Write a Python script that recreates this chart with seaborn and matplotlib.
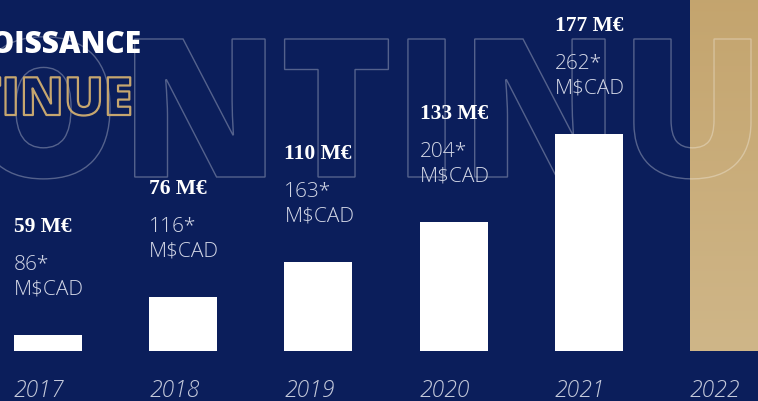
import matplotlib
matplotlib.use("Agg")
import matplotlib.pyplot as plt
import numpy as np
import seaborn as sns
from matplotlib import patheffects
from matplotlib.colors import LinearSegmentedColormap
from matplotlib.font_manager import FontProperties
from matplotlib.patches import PathPatch
from matplotlib.textpath import TextPath
from matplotlib.transforms import Affine2D

# values (bar heights in chart units, baseline = 0)
years = ["2017", "2018", "2019", "2020", "2021", "2022"]
bar_heights = [16, 54, 89, 129, 217, 380]
revenue_eur = ["59 M€", "76 M€", "110 M€", "133 M€", "177 M€"]
revenue_cad = ["86*", "116*", "163*", "204*", "262*"]
bar_colors = ["#ffffff"] * 5 + ["#c8aa74"]

NAVY = "#0b1e5b"
GOLD = "#c6a66f"
LIGHT = "#d3d7e6"
W, H = 758, 401

sns.set_theme(style="white")
plt.rcParams["font.family"] = ["Open Sans", "DejaVu Sans"]

fig = plt.figure(figsize=(W / 100, H / 100), dpi=100, facecolor=NAVY)
ax = fig.add_axes([0, 0, 1, 1])
ax.set_facecolor(NAVY)

sns.barplot(x=years, y=bar_heights, hue=years, palette=bar_colors, width=0.503,
            saturation=1, legend=False, linewidth=0, ax=ax, zorder=2)

# soft gradient on the 2022 bar
gold_bar = ax.patches[5]
grad = np.linspace(0, 1, 256).reshape(-1, 1)
cmap = LinearSegmentedColormap.from_list("gold", ["#cfb688", "#c3a36c"])
x0, bw = gold_bar.get_x(), gold_bar.get_width()
im = ax.imshow(grad, extent=[x0, x0 + bw, 0, gold_bar.get_height()], origin="lower",
               cmap=cmap, aspect="auto", zorder=2.1)
im.set_clip_path(gold_bar)

ax.set_xlim(-0.355, 5.251)
ax.set_ylim(-50, 351)
ax.axis("off")

# big outlined "CONTINUE" in the background
big_font = FontProperties(family="Open Sans", weight="heavy")


def word_path(s):
    return TextPath((0, 0), s, size=100, prop=big_font)


o_right = word_path("CO").get_extents().x1
u_right = word_path("CONTINU").get_extents().x1
cap = word_path("N").get_extents().height
sx = (751 - 110) / (u_right - o_right)
sy = 138 / cap
to_px = (Affine2D().translate(-o_right, 0).scale(sx, sy).translate(110, H - 177)
         .scale(1 / W, 1 / H) + fig.transFigure)
big = PathPatch(word_path("CONTINUE"), facecolor="none", edgecolor=(1, 1, 1, 0.3),
                lw=1, transform=to_px, zorder=3)
ax.add_artist(big)

# title fragments, cropped at the left edge
fig.text(142 / W, (H - 53) / H, "CROISSANCE", ha="right", va="baseline",
         fontsize=21.5, weight="heavy", color="white")
fig.text(133 / W, (H - 115) / H, "CONTINUE", ha="right", va="baseline",
         fontsize=38, weight="heavy", color="none",
         path_effects=[patheffects.Stroke(linewidth=1.6, foreground=GOLD)])

for i, h in enumerate(bar_heights):
    left = i - 0.2515
    if i < len(revenue_eur):
        ax.annotate(revenue_eur[i], (left, h), xytext=(0, 74), textcoords="offset points",
                    ha="left", va="baseline", family=["Liberation Serif"], weight="bold",
                    fontsize=15.5, color="white", zorder=5)
        ax.annotate(revenue_cad[i], (left, h), xytext=(0, 47), textcoords="offset points",
                    ha="left", va="baseline", weight="light", fontsize=15,
                    color=LIGHT, zorder=5)
        ax.annotate("M$CAD", (left, h), xytext=(0, 29), textcoords="offset points",
                    ha="left", va="baseline", weight="light", fontsize=15,
                    color=LIGHT, zorder=5)
    ax.annotate(years[i], (left, 0), xytext=(0, -33), textcoords="offset points",
                ha="left", va="baseline", style="italic", weight="light", fontsize=16.5,
                color="#c5cadb", annotation_clip=False, zorder=5)

fig.savefig("out.png", dpi=100, facecolor=NAVY)
